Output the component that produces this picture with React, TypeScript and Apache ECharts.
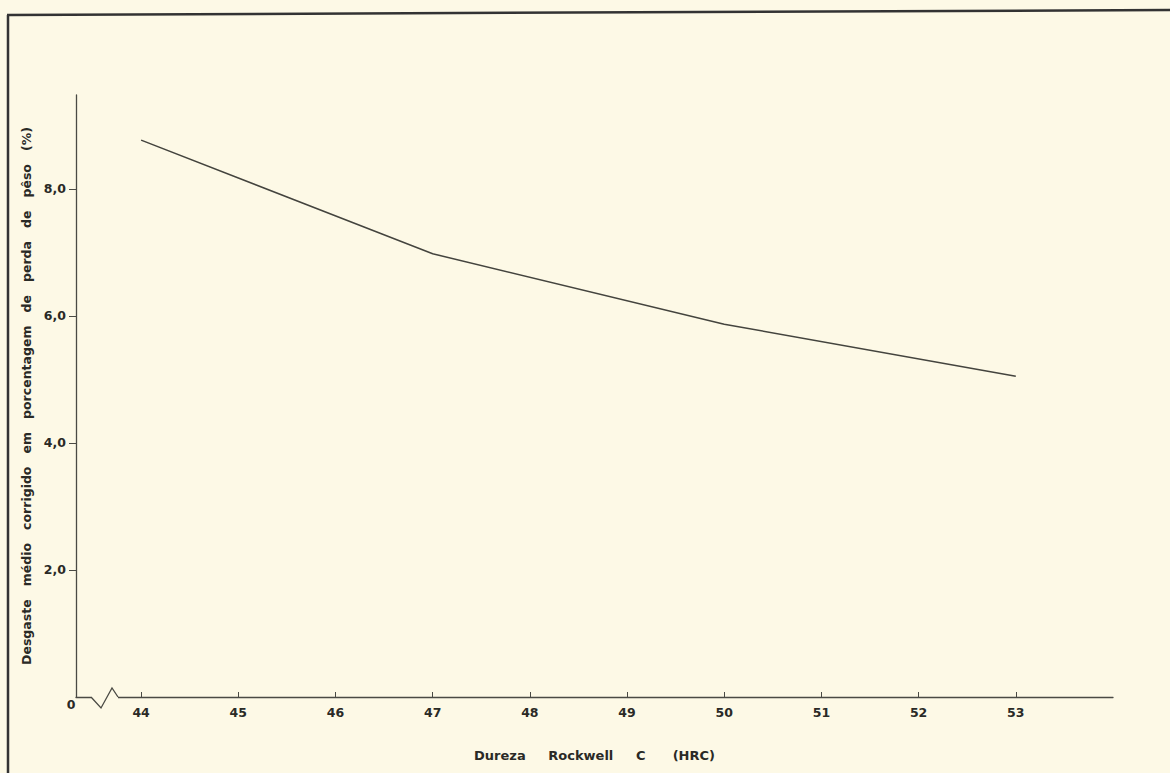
import React, { useEffect, useRef } from "react";
import * as echarts from "echarts";

const hardness = [44, 47, 50, 53];
const wear = [8.77, 6.98, 5.87, 5.05];
const xTicks = [44, 45, 46, 47, 48, 49, 50, 51, 52, 53];
const yTicks = [2, 4, 6, 8];

const BG = "#fdf9e6";
const INK = "#2a2a26";
const FONT = "DejaVu Sans";

export default function App() {
  const ref = useRef<HTMLDivElement>(null);
  useEffect(() => {
    document.body.style.margin = "0";
    document.body.style.background = BG;
    const chart = echarts.init(ref.current!, null, { renderer: "svg" });
    chart.setOption({
      animation: false,
      backgroundColor: BG,
      grid: { left: 76, right: 57, top: 95, bottom: 76 },
      xAxis: {
        type: "value",
        min: 43.33,
        max: 54,
        interval: 1,
        name: "Dureza     Rockwell     C      (HRC)",
        nameLocation: "middle",
        nameGap: 52,
        nameTextStyle: { color: INK, fontFamily: FONT, fontWeight: "bold", fontSize: 13 },
        axisLine: { show: true, lineStyle: { color: "#4a4a44", width: 1.3 } },
        axisTick: {
          show: true,
          inside: true,
          length: 5,
          customValues: xTicks,
          lineStyle: { color: "#4a4a44", width: 1 },
        },
        axisLabel: {
          customValues: xTicks,
          margin: 9,
          color: INK,
          fontFamily: FONT,
          fontWeight: "bold",
          fontSize: 12.5,
          formatter: (v: number) => String(v),
        },
        splitLine: { show: false },
      },
      yAxis: {
        type: "value",
        min: 0,
        max: 9.48,
        interval: 2,
        name: "Desgaste   médio   corrigido   em   porcentagem   de   perda   de   pêso   (%)",
        nameLocation: "middle",
        nameRotate: 90,
        nameGap: 42,
        nameTextStyle: { color: INK, fontFamily: FONT, fontWeight: "bold", fontSize: 12.5 },
        axisLine: { show: true, lineStyle: { color: "#4a4a44", width: 1.3 } },
        axisTick: {
          show: true,
          length: 7,
          customValues: yTicks,
          lineStyle: { color: "#4a4a44", width: 1 },
        },
        axisLabel: {
          customValues: yTicks,
          margin: 10,
          color: INK,
          fontFamily: FONT,
          fontWeight: "bold",
          fontSize: 12.5,
          formatter: (v: number) => v.toFixed(1).replace(".", ","),
        },
        splitLine: { show: false },
      },
      series: [
        {
          type: "line",
          data: hardness.map((h, i) => [h, wear[i]]),
          symbol: "none",
          lineStyle: { color: "#44443e", width: 1.5 },
        },
      ],
      graphic: [
        { type: "line", z: 100, shape: { x1: 8, y1: 773, x2: 8, y2: 15 }, style: { stroke: "#333", lineWidth: 2.5 } },
        { type: "line", z: 100, shape: { x1: 7, y1: 15, x2: 1170, y2: 10 }, style: { stroke: "#333", lineWidth: 2.5 } },
        { type: "rect", z: 100, shape: { x: 91, y: 694, width: 27, height: 6 }, style: { fill: BG } },
        {
          type: "polyline",
          z: 101,
          shape: { points: [[91, 697], [101, 708], [112, 688], [118, 697]] },
          style: { stroke: "#4a4a44", lineWidth: 1.3, fill: "none" },
        },
        {
          type: "text",
          z: 101,
          x: 71,
          y: 704,
          style: { text: "0", fill: INK, font: `bold 12.5px ${FONT}`, align: "center", verticalAlign: "middle" },
        },
      ],
    });
    return () => chart.dispose();
  }, []);
  return <div ref={ref} style={{ width: 1170, height: 773 }} />;
}
